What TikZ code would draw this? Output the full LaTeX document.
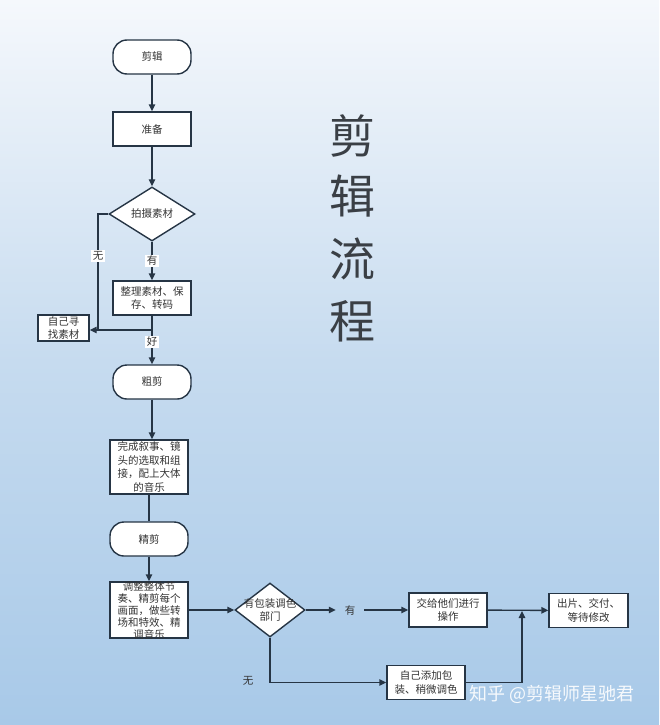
\documentclass[tikz,border=0pt]{standalone}
\usepackage{fontspec}
\setmainfont{Noto Sans CJK SC}
\usetikzlibrary{shapes.geometric,arrows.meta}
\definecolor{linec}{HTML}{263545}
\definecolor{txtc}{HTML}{333333}
\definecolor{bgtop}{HTML}{F5F8FC}
\definecolor{bgmid}{HTML}{C6DBEF}
\definecolor{bgbot}{HTML}{A8C9E8}
\definecolor{titlec}{HTML}{3A3F45}
\newcommand{\fs}{\fontsize{10.5}{13.5}\selectfont}
\begin{document}
\begin{tikzpicture}[x=1pt,y=-1pt,
  line/.style={draw=linec, line width=1.4pt},
  arr/.style={line, -{Triangle[length=7pt,width=6.5pt]}},
  term/.style={draw=linec, line width=1.4pt, fill=white, rounded corners=14pt,
    minimum width=78pt, minimum height=34pt, inner sep=0pt, font=\fs, text=txtc},
  proc/.style={draw=linec, line width=1.4pt, fill=white, minimum width=78pt,
    minimum height=34pt, inner sep=0pt, align=center, font=\fs, text=txtc},
  dec/.style={draw=linec, line width=1.4pt, fill=white, diamond, inner sep=0pt},
  lbl/.style={font=\fs, text=txtc, inner sep=1.5pt},
  ttl/.style={font=\fontsize{46}{46}\selectfont, text=titlec, inner sep=0pt}
]
\path[use as bounding box] (0,0) rectangle (659,725);
\shade[top color=bgtop, bottom color=bgbot, middle color=bgmid] (0,0) rectangle (659,725);

% nodes
\node[term] (jj) at (152,57) {剪辑};
\node[proc] (zb) at (152,129) {准备};
\node[dec, minimum width=86pt, minimum height=54pt] (d1) at (152,214) {};
\node[lbl] at (d1) {拍摄素材};
\node[proc] (zl) at (152,298) {整理素材、保\\存、转码};
\node[proc, minimum width=51pt, minimum height=26pt, font=\fontsize{10.5}{12.5}\selectfont] (zj) at (63.5,328) {自己寻\\找素材};
\node[term] (cj) at (152,382) {粗剪};
\node[proc, minimum height=54pt] (wc) at (149,467) {完成叙事、镜\\头的选取和组\\接，配上大体\\的音乐};
\node[term] (jq) at (149,539) {精剪};
\node[proc, minimum height=56pt] (tz) at (149,610) {};
\node[lbl, align=center, font=\fontsize{10.5}{11.8}\selectfont] at (149,610.5) {调整整体节\\奏、精剪每个\\画面，做些转\\场和特效、精\\调音乐};
\node[dec, minimum width=70pt, minimum height=54pt] (d2) at (270,610) {};
\node[lbl, align=center] at (d2) {有包装调色\\部门};
\node[proc] (jg) at (448,610) {交给他们进行\\操作};
\node[proc, minimum width=79pt] (cp) at (588.5,610.5) {出片、交付、\\等待修改};
\node[proc] (zt) at (426,682.5) {自己添加包\\装、稍微调色};

% title
\node[ttl] (t1) at (352,136) {剪};
\node[ttl] (t2) at (352,196) {辑};
\node[ttl] (t3) at (352,259) {流};
\node[ttl] (t4) at (352,321) {程};

% connectors
\draw[arr] (jj) -- (zb);
\draw[arr] (zb) -- (d1);
\draw[arr] (d1) -- node[lbl, fill=white, pos=0.5] {有} (zl);
\draw[arr] (zl) -- node[lbl, fill=white, pos=0.54] {好} (cj);
\coordinate (j1) at (152,330);
\coordinate (j2) at (98,330);
\draw[arr] (j1) -- (zj.east |- j1);
\draw[line] (d1.west) -| node[lbl, fill=white, pos=0.68] {无} (j2);
\draw[arr] (cj.south) -- (cj.south |- wc.north);
\draw[line] (wc) -- (jq);
\draw[arr] (jq) -- (tz);
\draw[arr] (tz) -- (d2);
\node[lbl, minimum width=28pt] (yl) at (350,610) {有};
\draw[arr] (d2.east) -- (yl.west);
\draw[arr] (yl.east) -- (jg.west);
\draw[arr] (jg) -- (cp);
\coordinate (j3) at (522,611);
\draw[arr] (zt.east) -| (j3);
\draw[arr] (d2.south) |- (zt.west);
\node[lbl] (wl) at (248,681) {无};

% watermark
\node[font=\fontsize{18}{18}\selectfont, text=white, opacity=0.9, inner sep=0pt] (wm) at (552,694) {知乎 @剪辑师星驰君};
\end{tikzpicture}
\end{document}
